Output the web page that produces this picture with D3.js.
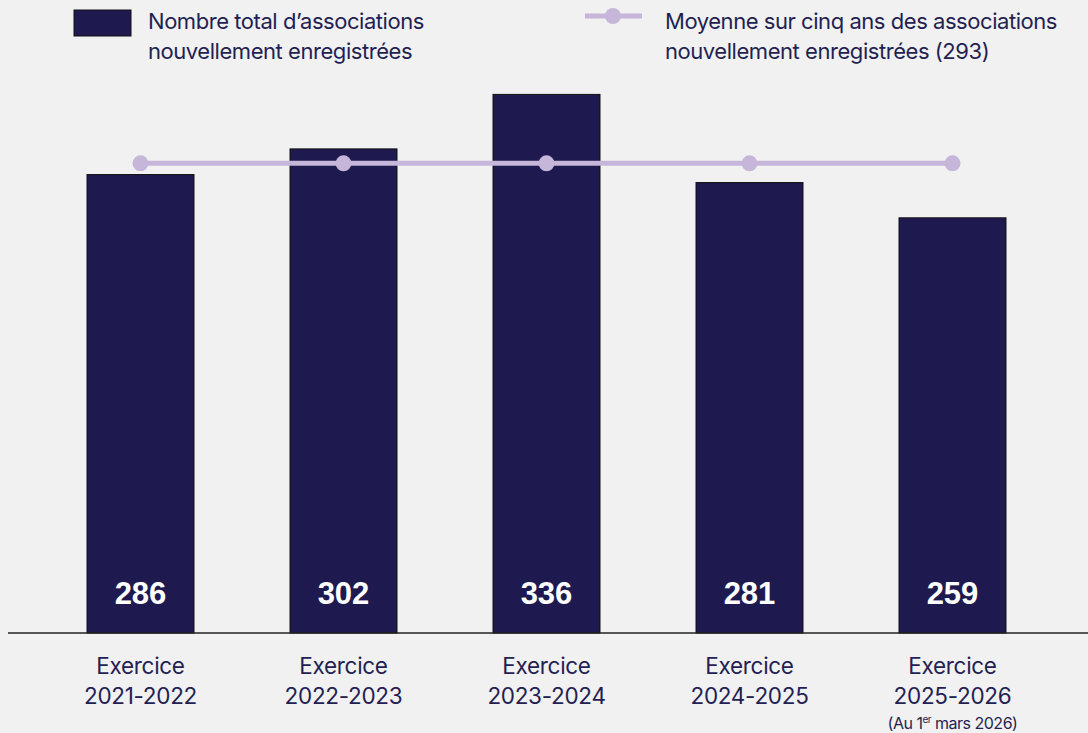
<!DOCTYPE html>
<html><head><meta charset="utf-8">
<script src="https://cdn.jsdelivr.net/npm/d3@7"></script>
<style>
html,body{margin:0;padding:0;background:#f1f1f1;}
svg{display:block;font-family:Inter, "Liberation Sans", sans-serif;}
</style></head>
<body>
<svg id="chart" width="1088" height="733"></svg>
<script>
const categories = ["2021-2022","2022-2023","2023-2024","2024-2025","2025-2026"];
const categoryPrefix = "Exercice";
const values = [286, 302, 336, 281, 259];
const average = 293;
const barLegend = ["Nombre total d’associations","nouvellement enregistrées"];
const lineLegend = ["Moyenne sur cinq ans des associations","nouvellement enregistrées (293)"];

const svg = d3.select("#chart");
const navy = "#1e1a4f";
const textColor = "#231f52";
const lilac = "#c5b6da";

const x = d3.scaleBand().domain(categories).range([39, 1054]).paddingInner(0.473).paddingOuter(0.2365);
const y = d3.scaleLinear().domain([0, 350]).range([633, 633 - 350*1.603]);

// bars
svg.append("g").selectAll("rect").data(values).join("rect")
  .attr("x", (d,i)=>x(categories[i]))
  .attr("y", d=>y(d))
  .attr("width", x.bandwidth())
  .attr("height", d=>y(0)-y(d))
  .attr("fill", navy)
  .attr("stroke", "#111")
  .attr("stroke-width", 1);

// value labels
svg.append("g").selectAll("text").data(values).join("text")
  .attr("x", (d,i)=>x(categories[i]) + x.bandwidth()/2)
  .attr("y", 604)
  .attr("text-anchor","middle")
  .attr("fill","#fff")
  .attr("font-family","'Liberation Sans', Arial, sans-serif")
  .attr("font-weight","bold")
  .attr("font-size", 31)
  .text(d=>d);

// baseline axis
const axis = d3.axisBottom(x).tickSize(0).tickFormat("");
const ax = svg.append("g").attr("transform", `translate(0,${y(0)})`).call(axis);
ax.select(".domain").attr("d", "M8,0H1088").attr("stroke","#222").attr("stroke-width",1.3);

// category labels
const lab = svg.append("g").selectAll("text").data(categories).join("text")
  .attr("text-anchor","middle")
  .attr("fill", textColor)
  .attr("font-size", 22.5)
  .attr("letter-spacing", -0.3);
lab.append("tspan").attr("x", d=>x(d)+x.bandwidth()/2).attr("y", 674).text(categoryPrefix);
lab.append("tspan").attr("x", d=>x(d)+x.bandwidth()/2).attr("y", 704).text(d=>d);

// footnote under last category
const last = categories[categories.length-1];
const note = svg.append("text")
  .attr("x", x(last)+x.bandwidth()/2).attr("y", 729)
  .attr("text-anchor","middle").attr("fill", textColor)
  .attr("font-size", 16).attr("letter-spacing", -0.5);
note.append("tspan").text("(Au 1");
note.append("tspan").attr("font-size", 10).attr("dy", -6).text("er");
note.append("tspan").attr("dy", 6).text(" mars 2026)");

// average line
const pts = categories.map(c=>[x(c)+x.bandwidth()/2, y(average)]);
svg.append("path").attr("d", d3.line()(pts))
  .attr("stroke", lilac).attr("stroke-width", 5).attr("fill","none");
svg.append("g").selectAll("circle").data(pts).join("circle")
  .attr("cx", d=>d[0]).attr("cy", d=>d[1]).attr("r", 8).attr("fill", lilac);

// legend
svg.append("rect").attr("x",74).attr("y",10).attr("width",57).attr("height",26)
  .attr("fill", navy).attr("stroke","#111").attr("stroke-width",1);
const lt1 = svg.append("text").attr("fill", textColor).attr("font-size", 22).attr("letter-spacing", -0.45);
barLegend.forEach((t,i)=>lt1.append("tspan").attr("x",148).attr("y",29+i*30).text(t));

svg.append("line").attr("x1",585).attr("x2",642).attr("y1",16).attr("y2",16)
  .attr("stroke", lilac).attr("stroke-width",5);
svg.append("circle").attr("cx",613).attr("cy",16).attr("r",8).attr("fill",lilac);
const lt2 = svg.append("text").attr("fill", textColor).attr("font-size", 22).attr("letter-spacing", -0.45);
lineLegend.forEach((t,i)=>lt2.append("tspan").attr("x",665).attr("y",29+i*30).text(t));
</script>
</body></html>
